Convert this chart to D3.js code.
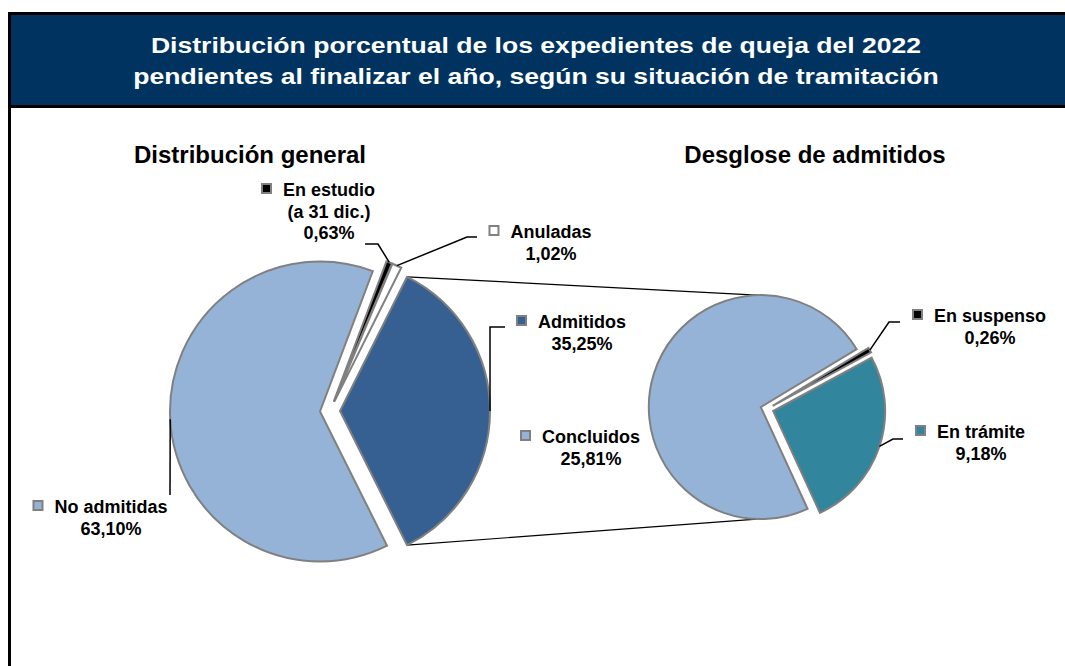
<!DOCTYPE html>
<html>
<head>
<meta charset="utf-8">
<script src="https://cdn.jsdelivr.net/npm/d3@7/dist/d3.min.js"></script>
<style>
  html, body { margin: 0; padding: 0; background: #fff; }
  svg { display: block; font-family: "Liberation Sans", Arial, sans-serif; font-weight: bold; }
</style>
</head>
<body>
<div id="chart"></div>
<script>
// data
var titleLines = [
  'Distribución porcentual de los expedientes de queja del 2022',
  'pendientes al finalizar el año, según su situación de tramitación'
];
var subtitles = ['Distribución general', 'Desglose de admitidos'];

var mainNames = ['No admitidas', 'En estudio', 'Anuladas', 'Admitidos'];
var mainValues = [63.10, 0.63, 1.02, 35.25];
var mainLabels = [['No admitidas', '63,10%'], ['En estudio', '(a 31 dic.)', '0,63%'], ['Anuladas', '1,02%'], ['Admitidos', '35,25%']];

var subNames = ['Concluidos', 'En suspenso', 'En trámite'];
var subValues = [25.81, 0.26, 9.18];
var subLabels = [['Concluidos', '25,81%'], ['En suspenso', '0,26%'], ['En trámite', '9,18%']];

(function () {
  var width = 1065;
  var height = 666;

  var colors = {
    'No admitidas': '#95b3d7',
    'En estudio': '#000000',
    'Anuladas': '#ffffff',
    'Admitidos': '#376092',
    'Concluidos': '#95b3d7',
    'En suspenso': '#000000',
    'En trámite': '#31859c'
  };

  // label layout: center x of text, first baseline, optional leader stub
  var labelPos = {
    'No admitidas': { x: 111, y: 513, stub: [[170, 495]] },
    'En estudio': { x: 329, y: 196, stub: [[365, 244], [378, 244]] },
    'Anuladas': { x: 551, y: 238, stub: [[477, 237], [467, 237]] },
    'Admitidos': { x: 582, y: 328, stub: [[505, 327], [490, 327]] },
    'Concluidos': { x: 591, y: 443, stub: null },
    'En suspenso': { x: 990, y: 322, stub: [[900, 322], [889, 322]] },
    'En trámite': { x: 981, y: 438, stub: [[903, 439], [893, 439]] }
  };

  var svg = d3.select('#chart').append('svg')
    .attr('width', width)
    .attr('height', height);

  // frame + header
  svg.append('rect')
    .attr('x', 9.5).attr('y', 13.5)
    .attr('width', width + 20).attr('height', height + 20)
    .attr('fill', '#fff').attr('stroke', '#000').attr('stroke-width', 3);
  svg.append('rect')
    .attr('x', 9.5).attr('y', 13.5)
    .attr('width', width + 20).attr('height', 93)
    .attr('fill', '#00335f').attr('stroke', '#000').attr('stroke-width', 3);

  // the title font in the original is a bit wider than Arial
  svg.append('g').selectAll('text')
    .data(titleLines)
    .enter().append('text')
    .attr('x', 536)
    .attr('y', function (d, i) { return 53 + i * 31; })
    .attr('text-anchor', 'middle')
    .attr('fill', '#fff')
    .attr('font-size', 22.5)
    .text(function (d) { return d; })
    .each(function () {
      var w = this.getComputedTextLength();
      d3.select(this)
        .attr('textLength', w * 1.18)
        .attr('lengthAdjust', 'spacingAndGlyphs');
    });

  svg.append('g').selectAll('text')
    .data(subtitles)
    .enter().append('text')
    .attr('x', function (d, i) { return i === 0 ? 250 : 815; })
    .attr('y', 163)
    .attr('text-anchor', 'middle')
    .attr('font-size', 24)
    .text(function (d) { return d; });

  var deg = Math.PI / 180;

  // main pie: the "Admitidos" slice is centred on the right side
  var total = d3.sum(mainValues);
  var splitFrac = mainValues[3] / total;
  var mainStart = Math.PI / 2 + splitFrac * Math.PI;
  var mainPie = d3.pie().sort(null).startAngle(mainStart).endAngle(mainStart + 2 * Math.PI);
  var mainArcs = mainPie(mainValues).map(function (a, i) {
    a.name = mainNames[i];
    a.label = mainLabels[i];
    return a;
  });

  var subStart = 155.3 * deg;
  var subPie = d3.pie().sort(null).startAngle(subStart).endAngle(subStart + 2 * Math.PI);
  var subArcs = subPie(subValues).map(function (a, i) {
    a.name = subNames[i];
    a.label = subLabels[i];
    return a;
  });

  var main = { cx: 330, cy: 411, r: 150, explode: 10, arcs: mainArcs };
  var sub = { cx: 767, cy: 409, r: 112, explode: 6.5, arcs: subArcs };

  function offsetOf(a, explode) {
    var mid = (a.startAngle + a.endAngle) / 2;
    return [explode * Math.sin(mid), -explode * Math.cos(mid)];
  }

  function outerPoint(p, a) {
    var o = offsetOf(a, p.explode);
    var mid = (a.startAngle + a.endAngle) / 2;
    return [p.cx + o[0] + p.r * Math.sin(mid), p.cy + o[1] - p.r * Math.cos(mid)];
  }

  function drawPie(p) {
    var arc = d3.arc().innerRadius(0).outerRadius(p.r);
    var g = svg.append('g').attr('transform', 'translate(' + p.cx + ',' + p.cy + ')');
    g.selectAll('path')
      .data(p.arcs)
      .enter().append('path')
      .attr('transform', function (d) {
        var o = offsetOf(d, p.explode);
        return 'translate(' + o[0] + ',' + o[1] + ')';
      })
      .attr('d', arc)
      .attr('fill', function (d) { return colors[d.name]; })
      .attr('stroke', '#808080')
      .attr('stroke-width', 2)
      .attr('stroke-linejoin', 'miter');
  }

  // connector lines between the two pies
  var adm = mainArcs[3];
  var admOff = offsetOf(adm, main.explode);
  var conc = subArcs[0];
  var concOff = offsetOf(conc, sub.explode);
  var admTop = [main.cx + admOff[0] + main.r * Math.sin(adm.startAngle), main.cy + admOff[1] - main.r * Math.cos(adm.startAngle)];
  var admBot = [main.cx + admOff[0] + main.r * Math.sin(adm.endAngle), main.cy + admOff[1] - main.r * Math.cos(adm.endAngle)];
  var subTop = [sub.cx + concOff[0] - 4, sub.cy + concOff[1] - sub.r];
  var subBot = [sub.cx + concOff[0] - 4, sub.cy + concOff[1] + sub.r];

  svg.append('g').selectAll('line')
    .data([[admTop, subTop], [admBot, subBot]])
    .enter().append('line')
    .attr('x1', function (d) { return d[0][0]; })
    .attr('y1', function (d) { return d[0][1]; })
    .attr('x2', function (d) { return d[1][0]; })
    .attr('y2', function (d) { return d[1][1]; })
    .attr('stroke', '#000')
    .attr('stroke-width', 1.2);

  drawPie(main);
  drawPie(sub);

  // labels with leader lines
  var lineGen = d3.line();
  var lineH = 21.5;

  function drawLabels(p) {
    p.arcs.forEach(function (a) {
      var pos = labelPos[a.name];
      if (pos.stub) {
        var pts = pos.stub.concat([outerPoint(p, a)]);
        svg.append('path')
          .attr('d', lineGen(pts))
          .attr('fill', 'none')
          .attr('stroke', '#000')
          .attr('stroke-width', 1.5);
      }
      var g = svg.append('g');
      var texts = g.selectAll('text')
        .data(a.label)
        .enter().append('text')
        .attr('x', pos.x)
        .attr('y', function (d, i) { return pos.y + i * lineH; })
        .attr('text-anchor', 'middle')
        .attr('font-size', 18)
        .text(function (d) { return d; });
      var firstW = texts.node().getComputedTextLength();
      g.append('rect')
        .attr('x', pos.x - firstW / 2 - 21)
        .attr('y', pos.y - 12)
        .attr('width', 9)
        .attr('height', 9)
        .attr('fill', colors[a.name])
        .attr('stroke', '#808080')
        .attr('stroke-width', 2);
    });
  }

  drawLabels(main);
  drawLabels(sub);
})();
</script>
</body>
</html>
